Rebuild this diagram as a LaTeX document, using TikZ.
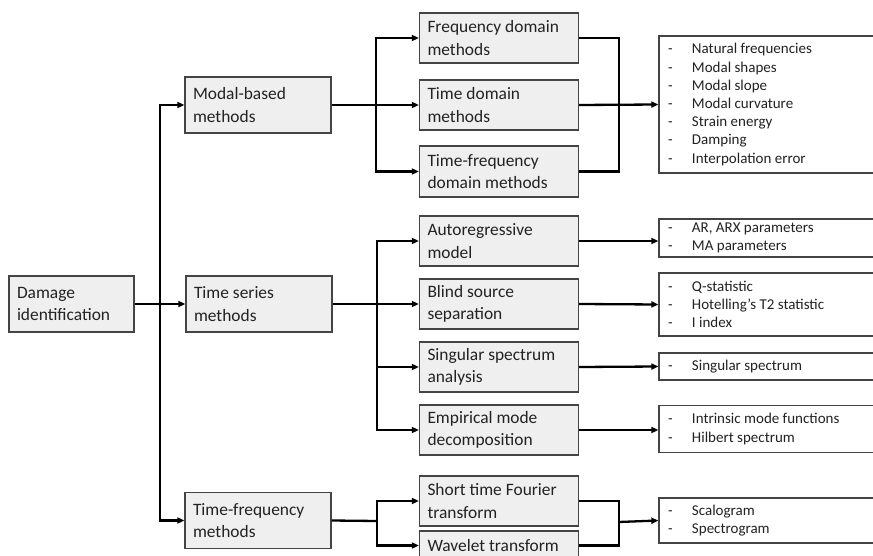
\documentclass[tikz,border=0pt]{standalone}
\usepackage{fontspec}
\setmainfont{Carlito}
\usetikzlibrary{arrows.meta}
\definecolor{boxfill}{HTML}{EFEFEF}
\definecolor{boxline}{HTML}{444444}
\definecolor{txt}{HTML}{222222}
\tikzset{
  box/.style={draw=boxline, fill=boxfill, line width=1.3pt, align=flush left,
    inner xsep=8pt, inner ysep=0pt, text=txt,
    font=\fontsize{17.4}{22.5}\selectfont, anchor=center},
  w146/.style={text width=130pt},
  w160/.style={text width=143pt},
  res/.style={draw=boxline, fill=white, line width=1.3pt, align=flush left,
    inner xsep=9pt, inner ysep=0pt, text=txt, text width=243pt,
    font=\fontsize{15}{18.2}\selectfont, anchor=center},
  conn/.style={line width=2.3pt, draw=black},
  arr/.style={conn, -{Triangle[length=7pt,width=6pt]}}
}
\newcommand{\itm}[1]{\makebox[24pt][l]{-}#1}
\begin{document}
\begin{tikzpicture}[x=1pt,y=-1pt]
\useasboundingbox (0,0) rectangle (873,556);
\clip (0,0) rectangle (873,556);
% level 0
\node[box, text width=109pt, minimum height=56pt] (dmg) at (71.5,304) {Damage\\identification};
% level 1
\node[box, w146, minimum height=56pt] (modal) at (258,105) {Modal-based\\methods};
\node[box, w146, minimum height=56pt] (ts) at (259,304) {Time series\\methods};
\node[box, w146, minimum height=56pt] (tf) at (258,520.5) {Time-frequency\\methods};
% level 2
\node[box, w160, minimum height=50pt] (freq) at (499,38) {Frequency domain\\methods};
\node[box, w160, minimum height=50pt] (timed) at (499,105) {Time domain\\methods};
\node[box, w160, minimum height=51pt] (tfd) at (499,171.5) {Time-frequency\\domain methods};
\node[box, w160, minimum height=50pt] (ar) at (499,241) {Autoregressive\\model};
\node[box, w160, minimum height=50pt] (bss) at (499,304) {Blind source\\separation};
\node[box, w160, minimum height=50pt] (ssa) at (499,367) {Singular spectrum\\analysis};
\node[box, w160, minimum height=50pt] (emd) at (499,430) {Empirical mode\\decomposition};
\node[box, w160, minimum height=50pt] (stft) at (499,501) {Short time Fourier\\transform};
\node[box, w160, minimum height=29pt] (wt) at (499,545.5) {Wavelet transform};
% results
\node[res, minimum height=137pt] (r1) at (789.5,104.5) {\itm{Natural frequencies}\\\itm{Modal shapes}\\\itm{Modal slope}\\\itm{Modal curvature}\\\itm{Strain energy}\\\itm{Damping}\\\itm{Interpolation error}};
\node[res, minimum height=38pt] (r2) at (789.5,238) {\itm{AR, ARX parameters}\\\itm{MA parameters}};
\node[res, minimum height=63pt] (r3) at (789.5,304.5) {\itm{Q-statistic}\\\itm{Hotelling’s T2 statistic}\\\itm{I index}};
\node[res, minimum height=27pt] (r4) at (789.5,366.5) {\itm{Singular spectrum}};
\node[res, minimum height=47pt] (r5) at (789.5,429) {\itm{Intrinsic mode functions}\\\itm{Hilbert spectrum}};
\node[res, minimum height=45pt] (r6) at (789.5,520.5) {\itm{Scalogram}\\\itm{Spectrogram}};
% junction coordinates
\coordinate (j0) at (160,304);
\coordinate (j1) at (376,105);
\coordinate (j2) at (377,304);
\coordinate (j3) at (377,521);
\coordinate (m1) at (619,105);
\coordinate (m2) at (619,522);
% level 0 -> 1
\draw[arr] (dmg.east) -- (ts.west);
\draw[arr] (j0) |- (modal.west);
\draw[arr] (j0) |- (tf.west);
% modal branch
\draw[arr] (modal.east) -- (timed.west);
\draw[arr] (j1) |- (freq.west);
\draw[arr] (j1) |- (tfd.west);
% time series branch
\draw[arr] (ts.east) -- (bss.west);
\draw[arr] (j2) |- (ar.west);
\draw[arr] (j2) |- (ssa.west);
\draw[arr] (j2) |- (emd.west);
% time-frequency branch
\draw[conn] (tf.east) -- (j3);
\draw[arr] (j3) |- (stft.west);
\draw[arr] (j3) |- (wt.west);
% merges and results
\draw[conn] (freq.east) -| (m1) |- (tfd.east);
\draw[arr] (timed.east) -- (r1.west);
\draw[arr] (ar.east) -- (ar.east -| r2.west);
\draw[arr] (bss.east) -- (r3.west);
\draw[arr] (ssa.east) -- (r4.west);
\draw[arr] (emd.east) -- (emd.east -| r5.west);
\draw[conn] (stft.east) -| (m2) |- (wt.east);
\draw[arr] (m2) -- (r6.west);
\end{tikzpicture}
\end{document}
